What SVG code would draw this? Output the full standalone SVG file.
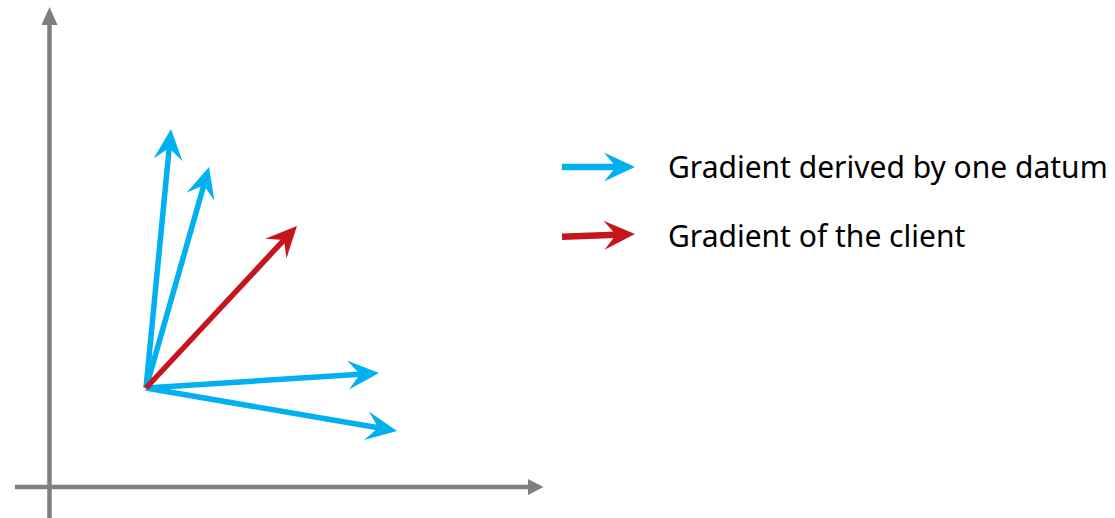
<svg xmlns="http://www.w3.org/2000/svg" width="1115" height="518" viewBox="0 0 1115 518">
  <style>
    .axis { stroke: #7f7f7f; stroke-width: 4.5; fill: none; }
    .axis-head { fill: #7f7f7f; }
    .vec { stroke-width: 5.5; fill: none; }
    .blue { stroke: #00b0f0; }
    .red { stroke: #c4161c; }
    .legend-line { stroke-width: 6.5; fill: none; }
    .label { font-family: "Noto Sans", "Open Sans", sans-serif; font-size: 30px; fill: #000; }
  </style>
  <defs>
    <!-- stealth arrowheads; refX sits at the notch where the shaft ends -->
    <marker id="head-blue" markerUnits="userSpaceOnUse" markerWidth="32" markerHeight="32" refX="12" refY="0" orient="auto" overflow="visible">
      <path d="M31,0 L0,-14.5 L12,0 L0,14.5 Z" fill="#00b0f0"/>
    </marker>
    <marker id="head-red" markerUnits="userSpaceOnUse" markerWidth="32" markerHeight="32" refX="12" refY="0" orient="auto" overflow="visible">
      <path d="M31,0 L0,-14.5 L12,0 L0,14.5 Z" fill="#c4161c"/>
    </marker>
  </defs>

  <!-- coordinate axes -->
  <g id="axes">
    <line class="axis" x1="49.5" y1="518" x2="49.5" y2="22"/>
    <polygon class="axis-head" points="49.5,7 41.5,25 57.5,25"/>
    <line class="axis" x1="15" y1="487" x2="530" y2="487"/>
    <polygon class="axis-head" points="543.5,487 528,479 528,495"/>
  </g>

  <!-- gradient vectors from the common origin -->
  <g id="connectors">
    <line class="vec blue" x1="146" y1="388" x2="169.2" y2="147.9" marker-end="url(#head-blue)"/>
    <line class="vec blue" x1="146" y1="388" x2="203.8" y2="185.3" marker-end="url(#head-blue)"/>
    <line class="vec blue" x1="146" y1="388" x2="360.0" y2="374.2" marker-end="url(#head-blue)"/>
    <line class="vec blue" x1="146" y1="388" x2="378.3" y2="427.8" marker-end="url(#head-blue)"/>
    <line class="vec red" x1="146" y1="388" x2="284.0" y2="239.9" marker-end="url(#head-red)"/>
  </g>

  <!-- legend -->
  <g id="legend-datum">
    <line class="legend-line blue" x1="562" y1="167" x2="616" y2="167" marker-end="url(#head-blue)"/>
    <text class="label" x="668" y="177.5">Gradient derived by one datum</text>
  </g>
  <g id="legend-client">
    <line class="legend-line red" x1="562" y1="236.8" x2="616" y2="234.8" marker-end="url(#head-red)"/>
    <text class="label" x="668" y="246.5">Gradient of the client</text>
  </g>
</svg>
